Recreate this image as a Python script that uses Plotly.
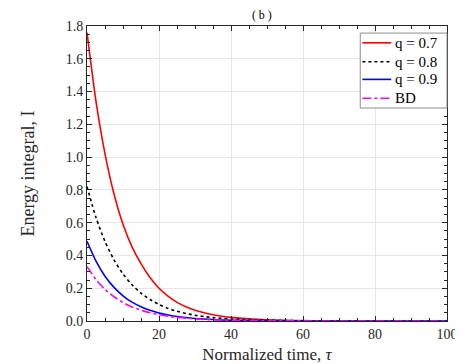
import plotly.graph_objects as go

# normalized time samples
tau = [0, 2.5, 5, 7.5, 10, 12.5, 15, 17.5, 20, 22.5, 25, 27.5, 30, 32.5, 35, 37.5, 40,
       45, 50, 55, 60, 65, 70, 75, 80, 85, 90, 95, 100]

i_q07 = [1.76, 1.34, 1.02, 0.775, 0.59, 0.452, 0.35, 0.265, 0.20, 0.152, 0.114, 0.087, 0.066, 0.05, 0.038, 0.029, 0.022,
         0.013, 0.0075, 0.0044, 0.0025, 0.0015, 0.0009, 0.0005, 0.0003, 0.0002, 0.0001, 0.0, 0.0]
i_q08 = [0.82, 0.631, 0.485, 0.373, 0.287, 0.221, 0.170, 0.131, 0.101, 0.077, 0.059, 0.046, 0.035, 0.027, 0.021, 0.016, 0.012,
         0.0072, 0.0043, 0.0025, 0.0015, 0.0009, 0.0005, 0.0003, 0.0002, 0.0001, 0.0, 0.0, 0.0]
i_q09 = [0.486, 0.365, 0.273, 0.205, 0.154, 0.115, 0.087, 0.065, 0.049, 0.037, 0.027, 0.021, 0.015, 0.012, 0.0087, 0.0065, 0.0049,
         0.0028, 0.0016, 0.0009, 0.0005, 0.0003, 0.0002, 0.0001, 0.0, 0.0, 0.0, 0.0, 0.0]
i_bd = [0.332, 0.253, 0.193, 0.148, 0.113, 0.086, 0.066, 0.050, 0.038, 0.029, 0.022, 0.017, 0.013, 0.0098, 0.0075, 0.0057, 0.0044,
        0.0026, 0.0015, 0.0009, 0.0005, 0.0003, 0.0002, 0.0001, 0.0, 0.0, 0.0, 0.0, 0.0]

labels = ["q = 0.7", "q = 0.8", "q = 0.9", "BD"]
colors = ["#ff0000", "#000000", "#0000ff", "#ff00ff"]
dashes = ["solid", "dot", "solid", "dashdot"]
values = [i_q07, i_q08, i_q09, i_bd]

FONT = "Liberation Serif"
AX = "#262626"

fig = go.Figure()
for name, vals, color, dash in zip(labels, values, colors, dashes):
    fig.add_trace(go.Scatter(
        x=tau, y=vals, name=name, mode="lines",
        line=dict(color=color, width=1.6, dash=dash, shape="spline", smoothing=0.6),
    ))

axis_common = dict(
    showline=True, linecolor=AX, linewidth=1, mirror="ticks",
    ticks="inside", ticklen=5, tickcolor=AX,
    showgrid=True, gridcolor="#e6e6e6", gridwidth=1,
    zeroline=False, automargin=False,
    tickfont=dict(family=FONT, size=14, color=AX),
)

fig.update_xaxes(
    range=[0, 100], dtick=20, tick0=0,
    minor=dict(ticks="inside", ticklen=3, dtick=5, tickcolor=AX, showgrid=False),
    title=dict(text="Normalized time, <i>τ</i>", font=dict(family=FONT, size=17, color=AX), standoff=8),
    **axis_common,
)
fig.update_yaxes(
    range=[0, 1.8], dtick=0.2, tick0=0, tickformat=".1f",
    minor=dict(ticks="inside", ticklen=3, dtick=0.05, tickcolor=AX, showgrid=False),
    title=dict(text="Energy integral, I", font=dict(family=FONT, size=18, color=AX), standoff=26),
    **axis_common,
)

# legend box drawn by hand so the row spacing matches the original
shapes = [dict(type="rect", xref="paper", yref="paper", x0=0.759, x1=1.0, y0=0.722, y1=0.976,
               line=dict(color="#8c8c8c", width=1), fillcolor="white", layer="above")]
annotations = []
rows = [0.943, 0.879, 0.819, 0.755]
for label, color, dash, yr in zip(labels, colors, dashes, rows):
    shapes.append(dict(type="line", xref="paper", yref="paper", x0=0.765, x1=0.845, y0=yr, y1=yr,
                       line=dict(color=color, width=1.6, dash=dash), layer="above"))
    annotations.append(dict(text=label, xref="paper", yref="paper", x=0.849, y=yr,
                            xanchor="left", yanchor="middle", showarrow=False,
                            font=dict(family=FONT, size=15, color="#000000")))

# the page body keeps its default 8px margin, so the figure is shifted by that much
fig.update_layout(
    width=455, height=356,
    margin=dict(l=79, r=16, t=18, b=43),
    paper_bgcolor="white", plot_bgcolor="white",
    title=dict(text="( b )", x=0.558, xanchor="center", y=0.982, yanchor="middle",
               font=dict(family=FONT, size=12, color="#000000")),
    showlegend=False,
    shapes=shapes,
    annotations=annotations,
)

fig.write_html("out.html")
